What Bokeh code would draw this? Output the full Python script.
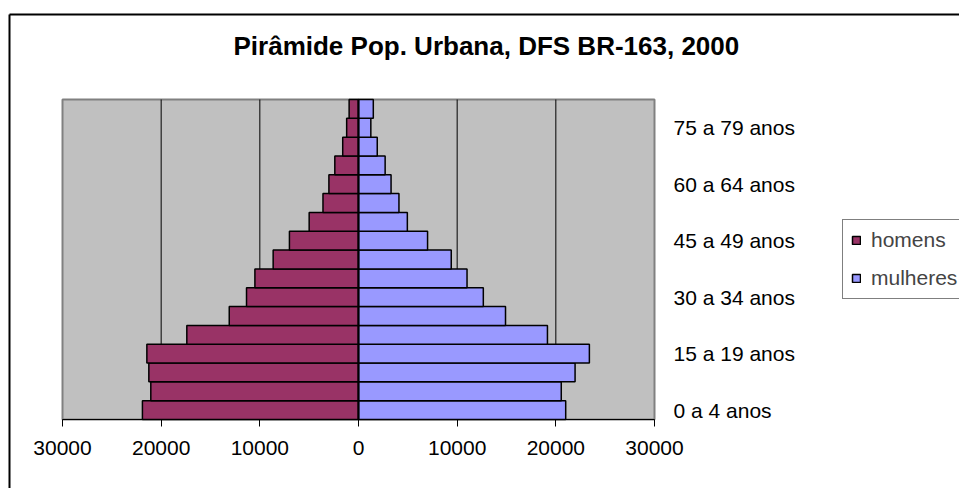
from bokeh.plotting import figure
from bokeh.models import (ColumnDataSource, FixedTicker, Legend, LegendItem, Label,
                          BoxAnnotation)
from bokeh.embed import file_html
from bokeh.resources import INLINE

# ---- data (bottom to top) ----
age_groups = ["0 a 4 anos", "5 a 9 anos", "10 a 14 anos", "15 a 19 anos", "20 a 24 anos",
              "25 a 29 anos", "30 a 34 anos", "35 a 39 anos", "40 a 44 anos", "45 a 49 anos",
              "50 a 54 anos", "55 a 59 anos", "60 a 64 anos", "65 a 69 anos", "70 a 74 anos",
              "75 a 79 anos", "80 anos e mais"]
homens = [21900, 21050, 21250, 21450, 17400, 13100, 11350, 10500, 8650, 7000,
          5000, 3600, 3000, 2400, 1600, 1200, 950]
mulheres = [21000, 20550, 21950, 23400, 19150, 14900, 12650, 11000, 9400, 7000,
            4950, 4100, 3300, 2700, 1900, 1250, 1500]
x_tick_values = [-30000, -20000, -10000, 0, 10000, 20000, 30000]
x_tick_labels = ["30000", "20000", "10000", "0", "10000", "20000", "30000"]
x_grid_values = [-20000, -10000, 10000, 20000]
y_label_groups = ["0 a 4 anos", "15 a 19 anos", "30 a 34 anos", "45 a 49 anos",
                  "60 a 64 anos", "75 a 79 anos"]
series_names = ["homens", "mulheres"]
title_text = "Pirâmide Pop. Urbana, DFS BR-163, 2000"

FONT = "Liberation Sans"

# ---- layout (page pixels) ----
W, H = 959, 488
PLOT_L, PLOT_R, PLOT_T, PLOT_B = 62, 654, 99, 419   # grey plot area
CHART_L, CHART_T = 9, 14                             # outer chart-area border

xmin, xmax = x_tick_values[0], x_tick_values[-1]
ymin, ymax = -0.5, len(age_groups) - 0.5
kx = (xmax - xmin) / (PLOT_R - PLOT_L)
ky = (ymax - ymin) / (PLOT_B - PLOT_T)
x_start = xmin - PLOT_L * kx
x_end = xmax + (W - PLOT_R) * kx
y_start = ymin - (H - PLOT_B) * ky
y_end = ymax + PLOT_T * ky

pos = list(range(len(age_groups)))
src = ColumnDataSource(dict(pos=pos, grupo=age_groups,
                            homens_neg=[-v for v in homens], mulheres=mulheres))

p = figure(width=W, height=H,
           x_range=(x_start, x_end), y_range=(y_start, y_end),
           y_axis_location="right",
           output_backend="svg", toolbar_location=None,
           min_border_left=0, min_border_right=0,
           min_border_top=0, min_border_bottom=0,
           background_fill_color="white", border_fill_color="white",
           outline_line_color=None)
p.title.visible = False
p.xgrid.visible = False
p.ygrid.visible = False

# outer chart-area border: only its left and top edges lie inside the picture
bx = x_start + CHART_L * kx
by = y_end - CHART_T * ky
p.segment(x0=[bx, bx], y0=[by, by], x1=[bx, x_end + 20 * kx], y1=[y_start - 20 * ky, by],
          line_color="black", line_width=2)

# grey plot area
p.add_layout(BoxAnnotation(left=xmin, right=xmax, bottom=ymin, top=ymax,
                           fill_color="#C0C0C0", fill_alpha=1,
                           line_color="#808080", line_alpha=1, line_width=2,
                           level="underlay"))

# vertical gridlines inside the plot area
p.segment(x0=x_grid_values, x1=x_grid_values, y0=ymin, y1=ymax,
          line_color="black", line_width=1)

r_h = p.hbar(y="pos", left="homens_neg", right=0, height=1.0, source=src,
             fill_color="#993366", line_color="black", line_width=1.5)
r_m = p.hbar(y="pos", left=0, right="mulheres", height=1.0, source=src,
             fill_color="#9999FF", line_color="black", line_width=1.5)

# zero (category) axis line
p.segment(x0=[0], x1=[0], y0=ymin, y1=ymax, line_color="black", line_width=2)

# x axis, at the bottom of the plot area
xa = p.xaxis[0]
xa.fixed_location = ymin
xa.bounds = (xmin, xmax)
xa.ticker = FixedTicker(ticks=x_tick_values, minor_ticks=[])
xa.major_label_overrides = {int(v): lab for v, lab in zip(x_tick_values, x_tick_labels)}
xa.axis_line_color = "black"
xa.axis_line_width = 1
xa.major_tick_line_color = "black"
xa.major_tick_out = 7
xa.major_tick_in = 0
xa.minor_tick_line_color = None
xa.major_label_standoff = 14
xa.major_label_text_font = FONT
xa.major_label_text_font_size = "21px"
xa.major_label_text_color = "black"

# y axis labels, at the right edge of the plot area
ya = p.yaxis[0]
ya.fixed_location = xmax
ya.ticker = FixedTicker(ticks=[age_groups.index(g) for g in y_label_groups], minor_ticks=[])
ya.major_label_overrides = {age_groups.index(g): g for g in y_label_groups}
ya.axis_line_color = None
ya.major_tick_line_color = None
ya.minor_tick_line_color = None
ya.major_tick_out = 0
ya.major_tick_in = 0
ya.major_label_standoff = 19
ya.major_label_text_font = FONT
ya.major_label_text_font_size = "21px"
ya.major_label_text_color = "black"

# title
p.add_layout(Label(x=233, y=H - 45, x_units="screen", y_units="screen",
                   text=title_text, text_font=FONT, text_font_size="26px",
                   text_font_style="bold", text_align="left",
                   text_baseline="alphabetic", text_color="black"))

# legend
legend = Legend(items=[LegendItem(label=series_names[0], renderers=[r_h]),
                       LegendItem(label=series_names[1], renderers=[r_m])],
                location=(842, H - 299), orientation="vertical",
                glyph_width=10, glyph_height=10, label_standoff=10,
                padding=8, spacing=14, margin=0,
                label_text_font=FONT, label_text_font_size="21px",
                border_line_color="black", border_line_width=1,
                background_fill_color="white", background_fill_alpha=1)
p.add_layout(legend)

open("out.html", "w").write(file_html(p, INLINE))
